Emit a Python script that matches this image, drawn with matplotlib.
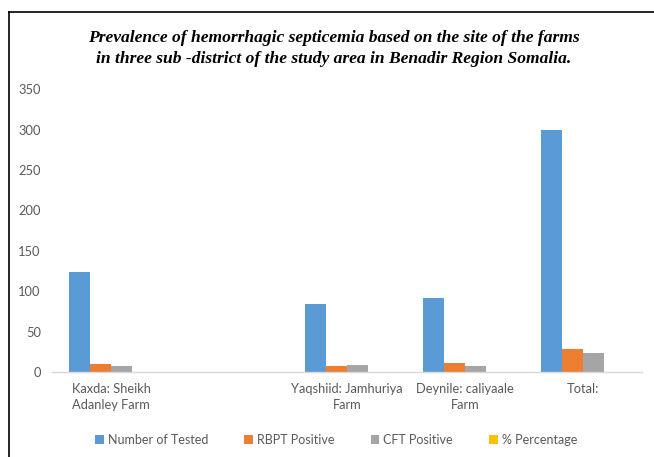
import numpy as np
import matplotlib

matplotlib.use('Agg')
import matplotlib.pyplot as plt
from matplotlib.lines import Line2D

# Данные с графика
categories = ['Kaxda: Sheikh\nAdanley Farm', '', 'Yaqshiid: Jamhuriya\nFarm',
              'Deynile: caliyaale\nFarm', 'Total:']
number_tested = [124, 0, 84, 92, 300]
rbpt_positive = [10, 0, 8, 11, 29]
cft_positive = [8, 0, 9, 7, 24]
percentage = [0, 0, 0, 0, 0]
series_names = ['Number of Tested', 'RBPT Positive', 'CFT Positive', '% Percentage']
y_ticks = [0, 50, 100, 150, 200, 250, 300, 350]

colors = ['#5B9BD5', '#ED7D31', '#A5A5A5', '#FFC000']
text_gray = '#595959'
font_main = ['Lato', 'DejaVu Sans']

fig = plt.figure(figsize=(6.54, 4.57), dpi=100)
ax = fig.add_axes([0.0795, 0.186, 0.9025, 0.619])

x = np.arange(len(categories))
width = 0.18
all_series = [number_tested, rbpt_positive, cft_positive, percentage]
for i, (vals, name) in enumerate(zip(all_series, series_names)):
    ax.bar(x + (i - 1.5) * width, vals, width, color=colors[i], label=name)

ax.set_xlim(-0.5, len(categories) - 0.5)
ax.set_ylim(0, 350)
ax.set_yticks(y_ticks)
ax.set_xticks(x)
ax.set_xticklabels(categories, family=font_main, fontsize=9.3, color=text_gray,
                   linespacing=1.35)
for lbl in ax.get_yticklabels():
    lbl.set_family(font_main)
    lbl.set_fontsize(9.3)
    lbl.set_color(text_gray)

ax.tick_params(axis='both', length=0)
ax.tick_params(axis='x', pad=8)
ax.tick_params(axis='y', pad=8)
for side in ['top', 'right', 'left']:
    ax.spines[side].set_visible(False)
ax.spines['bottom'].set_color('#D9D9D9')
ax.spines['bottom'].set_linewidth(1)

# Заголовок
fig.text(0.51, 0.893, 'Prevalence of hemorrhagic septicemia based on the site of the farms\n'
         'in three sub -district of the study area in Benadir Region Somalia.',
         ha='center', va='center', family='Liberation Serif', weight='bold',
         style='italic', fontsize=12.6, linespacing=1.42)

# Легенда
handles, labels = ax.get_legend_handles_labels()
leg = fig.legend(handles, labels, loc='center', bbox_to_anchor=(0.514, 0.037),
                 ncol=4, frameon=False, handlelength=0.7, handleheight=0.7,
                 handletextpad=0.3, columnspacing=2.9,
                 prop={'family': font_main, 'size': 9})
for t in leg.get_texts():
    t.set_color(text_gray)

# Рамка вокруг (верх и левая сторона)
fig.add_artist(Line2D([8.5 / 654, 1.0], [1 - 12 / 457, 1 - 12 / 457],
                      transform=fig.transFigure, color='black', lw=1.2))
fig.add_artist(Line2D([8.5 / 654, 8.5 / 654], [0, 1 - 12 / 457],
                      transform=fig.transFigure, color='black', lw=1.2))

fig.savefig('out.png', dpi=100)
plt.close(fig)
